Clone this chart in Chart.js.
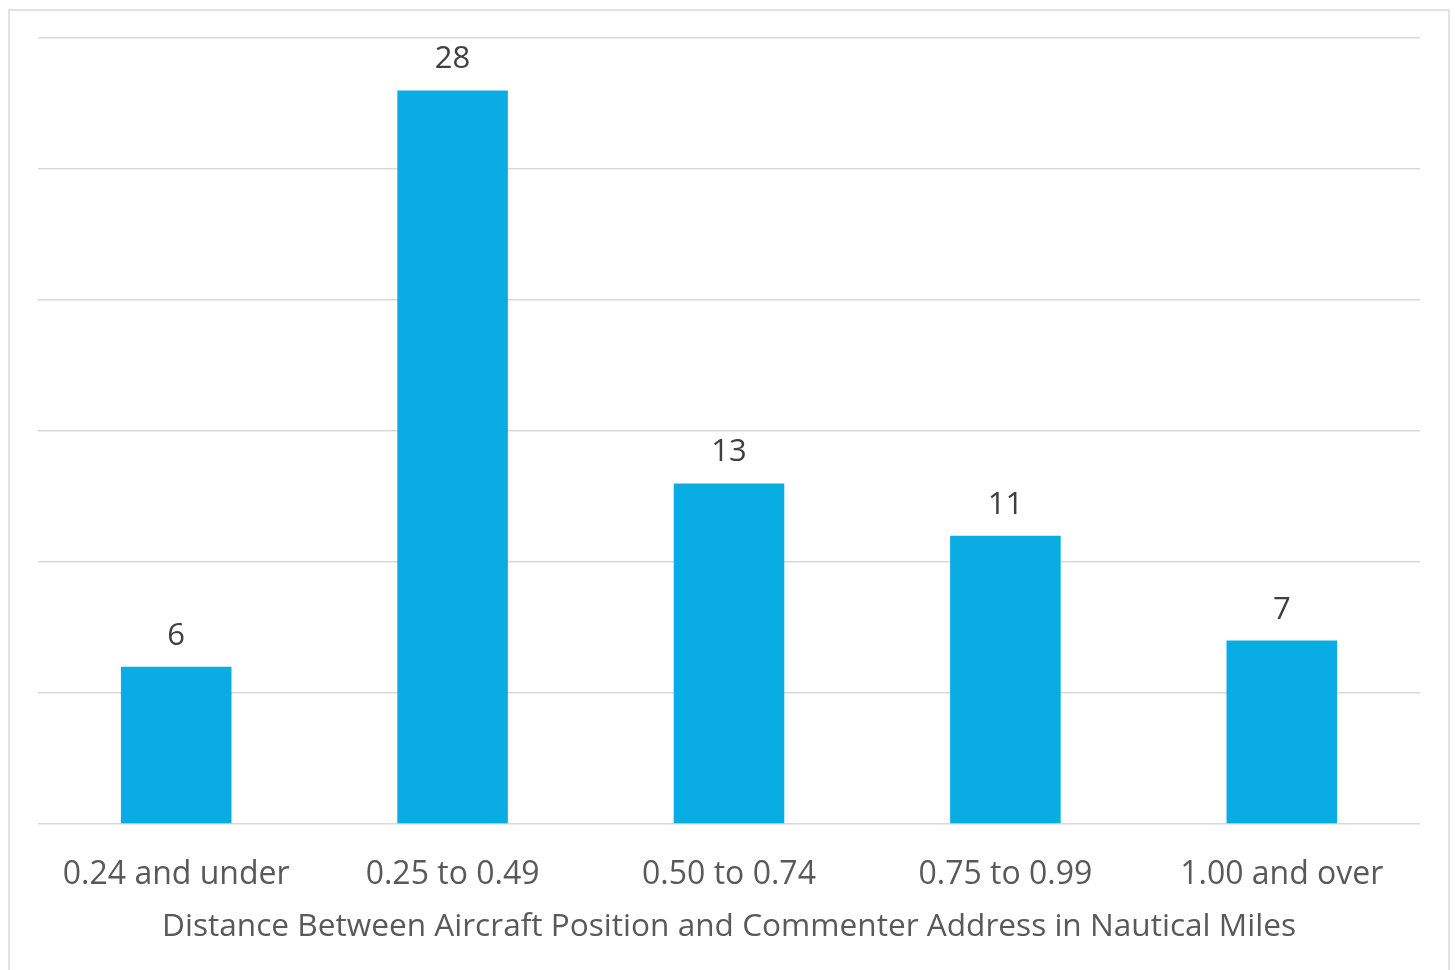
<!DOCTYPE html>
<html>
<head>
<meta charset="utf-8">
<script src="https://cdn.jsdelivr.net/npm/chart.js@4.4.0/dist/chart.umd.min.js"></script>
<style>
html,body{margin:0;padding:0;background:#fff;}
#wrap{width:1455px;height:970px;position:relative;}
</style>
</head>
<body>
<div id="wrap"><canvas id="c" width="1455" height="970"></canvas></div>
<script>
const categories = ["0.24 and under", "0.25 to 0.49", "0.50 to 0.74", "0.75 to 0.99", "1.00 and over"];
const counts = [6, 28, 13, 11, 7];
const axisTitle = "Distance Between Aircraft Position and Commenter Address in Nautical Miles";
const yMax = 30;
const yStep = 5;

const FONT = "'Open Sans', 'Noto Sans', sans-serif";

const frame = {
  id: 'frame',
  beforeDraw(chart) {
    const ctx = chart.ctx;
    ctx.save();
    ctx.fillStyle = '#ffffff';
    ctx.fillRect(0, 0, chart.width, chart.height);
    ctx.strokeStyle = '#d9d9d9';
    ctx.lineWidth = 1.5;
    ctx.strokeRect(9, 10, 1440, 962);
    ctx.restore();
  }
};

const valueLabels = {
  id: 'valueLabels',
  afterDatasetsDraw(chart) {
    const ctx = chart.ctx;
    const meta = chart.getDatasetMeta(0);
    ctx.save();
    ctx.fillStyle = '#404040';
    ctx.font = "31px " + FONT;
    ctx.textAlign = 'center';
    ctx.textBaseline = 'alphabetic';
    meta.data.forEach((bar, i) => {
      ctx.fillText(String(chart.data.datasets[0].data[i]), bar.x, bar.y - 22);
    });
    ctx.restore();
  }
};

new Chart(document.getElementById('c'), {
  type: 'bar',
  data: {
    labels: categories,
    datasets: [{
      data: counts,
      backgroundColor: '#0aade3',
      borderWidth: 0,
      categoryPercentage: 1.0,
      barPercentage: 0.4
    }]
  },
  options: {
    responsive: false,
    animation: false,
    devicePixelRatio: 1,
    layout: { padding: { left: 38, right: 35, top: 38, bottom: 0 } },
    plugins: { legend: { display: false }, tooltip: { enabled: false } },
    scales: {
      x: {
        grid: { display: false, drawTicks: false },
        border: { display: false },
        ticks: { color: '#595959', font: { family: FONT, size: 32 }, padding: 32, maxRotation: 0, autoSkip: false },
        title: { display: true, text: axisTitle, color: '#595959', font: { family: FONT, size: 31.6 }, padding: { top: 4, bottom: 24 } },
        afterFit(scale) { scale.height = 146; }
      },
      y: {
        min: 0, max: yMax,
        ticks: { display: false, stepSize: yStep },
        grid: { color: '#d9d9d9', lineWidth: 1.5, drawTicks: false },
        border: { display: false },
        afterFit(scale) { scale.width = 0; }
      }
    }
  },
  plugins: [frame, valueLabels]
});
</script>
</body>
</html>
